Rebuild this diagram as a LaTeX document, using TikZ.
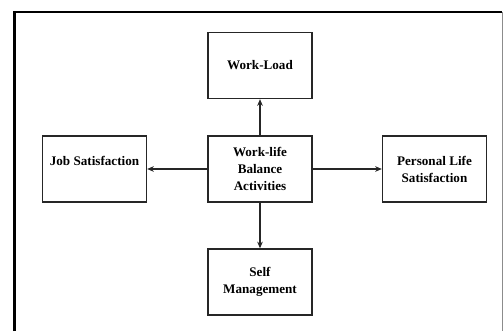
\documentclass[tikz,border=0pt]{standalone}
\usepackage{fontspec}
\setmainfont{Liberation Serif}
\usetikzlibrary{arrows.meta,positioning}

\begin{document}
\begin{tikzpicture}[x=0.03cm, y=-0.03cm,
  box/.style={draw=black!85, line width=1.2pt, minimum width=3.12cm,
    minimum height=1.98cm, align=center, inner sep=0pt,
    font=\fontsize{11.2}{14.5}\selectfont\bfseries},
  arr/.style={-{Stealth[length=2mm,width=1.7mm]}, line width=1pt, black!85},
  frame/.style={line width=2.4pt, black}
]
  \useasboundingbox (0,0) rectangle (503,331);

  % outer frame (bottom edge runs off the page)
  \draw[frame] (14.5,331) -- (14.5,12) -- (502,12);
  \draw[line width=0.8pt, black!45] (502,12) -- (502,331);

  \node[box] (wlb)  at (260,169) {Work-life\\Balance\\Activities};
  \node[box] (load) at (260,65.5) {Work-Load};
  \node[box] (job)  at (94.5,169) {Job Satisfaction\\\mbox{}};
  \node[box] (pers) at (434.5,169) {Personal Life\\Satisfaction};
  \node[box] (self) at (260,282) {Self\\Management};

  \draw[arr] (wlb.north) -- (load.south);
  \draw[arr] (wlb.west)  -- (job.east);
  \draw[arr] (wlb.east)  -- (pers.west);
  \draw[arr] (wlb.south) -- (self.north);
\end{tikzpicture}
\end{document}
